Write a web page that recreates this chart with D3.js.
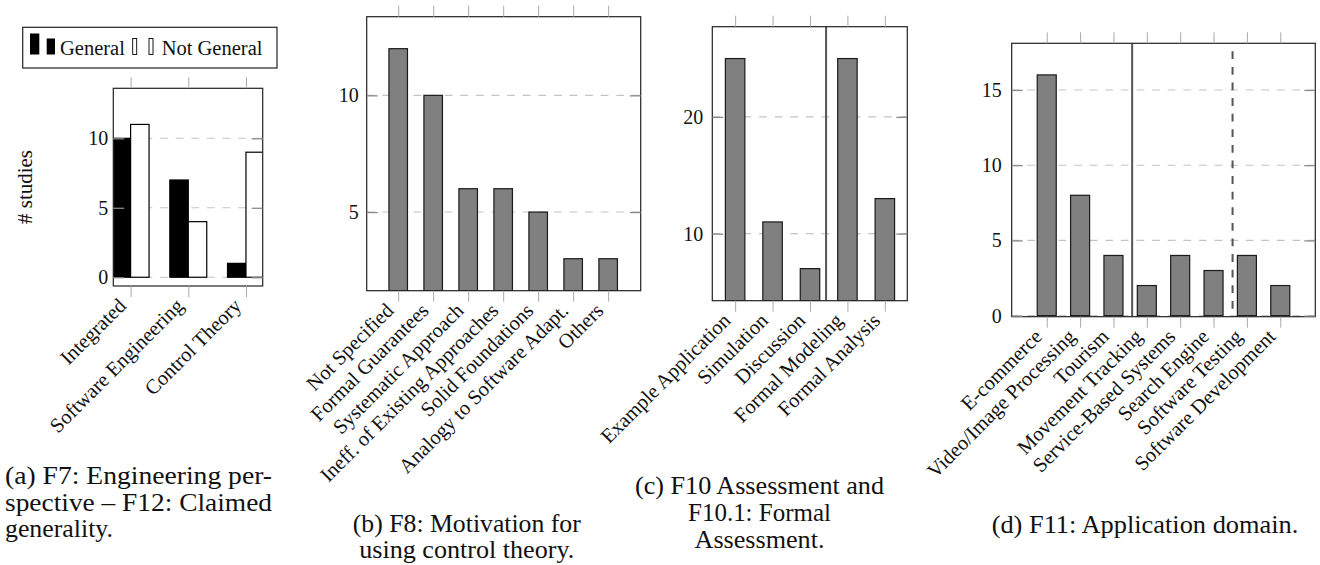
<!DOCTYPE html>
<html>
<head>
<meta charset="utf-8">
<script src="https://cdn.jsdelivr.net/npm/d3@7"></script>
<style>
  body { margin: 0; background: #fff; }
  text { font-family: "Liberation Serif", serif; fill: #111; }
</style>
</head>
<body>
<div class="chart-box"></div>
<script>
// (a) engineering perspective vs claimed generality
const catsA = ["Integrated", "Software Engineering", "Control Theory"];
const generalA = [10, 7, 1];
const notGeneralA = [11, 4, 9];
const ticksA = [0, 5, 10];

// (b) motivation
const catsB = ["Not Specified", "Formal Guarantees", "Systematic Approach", "Ineff. of Existing Approaches",
  "Solid Foundations", "Analogy to Software Adapt.", "Others"];
const valsB = [12, 10, 6, 6, 5, 3, 3];
const ticksB = [5, 10];

// (c) assessment
const catsC = ["Example Application", "Simulation", "Discussion", "Formal Modeling", "Formal Analysis"];
const valsC = [25, 11, 7, 25, 13];
const ticksC = [10, 20];

// (d) application domain
const catsD = ["E-commerce", "Video/Image Processing", "Tourism", "Movement Tracking",
  "Service-Based Systems", "Search Engine", "Software Testing", "Software Development"];
const valsD = [16, 8, 4, 2, 4, 3, 4, 2];
const ticksD = [0, 5, 10, 15];

let width = 1320, height = 565;
const serif = "'Liberation Serif', serif";

let svg = d3.select(".chart-box")
  .append("svg")
  .attr("width", width)
  .attr("height", height)
  .style("font-family", serif);

let clipCount = 0;

function makePanel(p) {
  let g = svg.append("g");
  let x = d3.scaleLinear().domain(p.xdom).range([p.left, p.right]);
  let y = d3.scaleLinear().domain(p.ydom).range([p.bottom, p.top]);
  let clipId = "clip" + (clipCount++);
  g.append("clipPath").attr("id", clipId)
    .append("rect")
    .attr("x", p.left).attr("y", p.top)
    .attr("width", p.right - p.left).attr("height", p.bottom - p.top);

  // dashed grid
  g.append("g").selectAll("line")
    .data(p.yticks)
    .enter()
    .append("line")
    .attr("x1", p.left).attr("x2", p.right)
    .attr("y1", d => y(d)).attr("y2", d => y(d))
    .attr("stroke", "#c4c4c4")
    .attr("stroke-width", 1.1)
    .attr("stroke-dasharray", "7.8 7.8");

  let bars = g.append("g").attr("clip-path", `url(#${clipId})`);
  return { g, x, y, bars };
}

function finishPanel(P, p) {
  let { g, x, y } = P;
  let idx = d3.range(p.cats.length);

  // separators
  (p.seps || []).forEach(s => {
    g.append("line")
      .attr("x1", x(s.at)).attr("x2", x(s.at))
      .attr("y1", s.dashed ? p.top + 8 : p.top).attr("y2", p.bottom)
      .attr("stroke", "#555")
      .attr("stroke-width", 2)
      .attr("stroke-dasharray", s.dashed ? "7.8 7.8" : null);
  });

  // frame
  g.append("rect")
    .attr("x", p.left).attr("y", p.top)
    .attr("width", p.right - p.left).attr("height", p.bottom - p.top)
    .attr("fill", "none")
    .attr("stroke", "#222")
    .attr("stroke-width", 1.2);

  let top = g.append("g")
    .attr("transform", `translate(0,${p.top})`)
    .call(d3.axisTop(x).tickValues(idx).tickSize(11).tickFormat(""));
  top.select(".domain").remove();
  top.selectAll("line").attr("stroke", "#aaa");

  let bottom = g.append("g")
    .attr("transform", `translate(0,${p.bottom})`)
    .call(d3.axisBottom(x).tickValues(idx).tickSize(11).tickFormat(i => p.cats[i]));
  bottom.select(".domain").remove();
  bottom.selectAll("line").attr("stroke", "#aaa");
  bottom.selectAll("text")
    .attr("x", null).attr("y", null).attr("dy", "0.35em")
    .attr("text-anchor", "end")
    .attr("transform", "translate(-9,16) rotate(-45)")
    .style("font-size", "20.5px")
    .style("font-family", serif)
    .attr("fill", "#111");

  let left = g.append("g")
    .attr("transform", `translate(${p.left},0)`)
    .call(d3.axisLeft(y).tickValues(p.yticks).tickSize(-11).tickPadding(p.labelPad));
  left.select(".domain").remove();
  left.selectAll("line").attr("stroke", "#8a8a8a").attr("stroke-width", 1.3);
  left.selectAll("text")
    .style("font-size", "20px")
    .style("font-family", serif)
    .attr("fill", "#111");

  let right = g.append("g")
    .attr("transform", `translate(${p.right},0)`)
    .call(d3.axisRight(y).tickValues(p.yticks).tickSize(-11).tickFormat(""));
  right.select(".domain").remove();
  right.selectAll("line").attr("stroke", "#8a8a8a").attr("stroke-width", 1.3);
}

function singleBars(P, p, vals, bw) {
  let base = Math.max(0, p.ydom[0]);
  P.bars.selectAll("rect")
    .data(vals)
    .enter()
    .append("rect")
    .attr("x", (d, i) => P.x(i - bw / 2))
    .attr("width", P.x(bw) - P.x(0))
    .attr("y", d => P.y(d))
    .attr("height", d => P.y(base) - P.y(d))
    .attr("fill", "#808080")
    .attr("stroke", "#1a1a1a")
    .attr("stroke-width", 1.2);
}

// ---- panel a
let pa = { left: 113.3, right: 262.7, top: 88.3, bottom: 286, xdom: [-0.3, 2.29], ydom: [-0.63, 13.6],
  cats: catsA, yticks: ticksA, labelPad: 5 };
let A = makePanel(pa);
let bwA = 0.32;
A.bars.selectAll("rect.gen")
  .data(generalA)
  .enter()
  .append("rect")
  .attr("class", "gen")
  .attr("x", (d, i) => A.x(i - bwA))
  .attr("width", A.x(bwA) - A.x(0))
  .attr("y", d => A.y(d))
  .attr("height", d => A.y(0) - A.y(d))
  .attr("fill", "#000")
  .attr("stroke", "#000")
  .attr("stroke-width", 1.2);
A.bars.selectAll("rect.ngen")
  .data(notGeneralA)
  .enter()
  .append("rect")
  .attr("class", "ngen")
  .attr("x", (d, i) => A.x(i))
  .attr("width", A.x(bwA) - A.x(0))
  .attr("y", d => A.y(d))
  .attr("height", d => A.y(0) - A.y(d))
  .attr("fill", "#fff")
  .attr("stroke", "#000")
  .attr("stroke-width", 1.2);
finishPanel(A, pa);

svg.append("text")
  .attr("transform", "translate(25,187) rotate(-90)")
  .attr("text-anchor", "middle")
  .attr("dy", "0.35em")
  .style("font-size", "21px")
  .text("# studies");

// legend
let leg = svg.append("g");
leg.append("rect").attr("x", 22.7).attr("y", 27.3).attr("width", 254.3).attr("height", 40.7)
  .attr("fill", "#fff").attr("stroke", "#222").attr("stroke-width", 1.2);
leg.append("rect").attr("x", 30).attr("y", 33.5).attr("width", 9.3).attr("height", 21).attr("fill", "#000");
leg.append("rect").attr("x", 46.7).attr("y", 38.5).attr("width", 8.3).attr("height", 16).attr("fill", "#000");
leg.append("text").attr("x", 60).attr("y", 55).style("font-size", "20.5px").text("General");
leg.append("rect").attr("x", 132.7).attr("y", 38.5).attr("width", 4).attr("height", 16)
  .attr("fill", "#fff").attr("stroke", "#000").attr("stroke-width", 0.9);
leg.append("rect").attr("x", 149).attr("y", 38.5).attr("width", 4).attr("height", 16)
  .attr("fill", "#fff").attr("stroke", "#000").attr("stroke-width", 0.9);
leg.append("text").attr("x", 161.7).attr("y", 55).style("font-size", "20.5px").text("Not General");

// ---- panel b
let pb = { left: 366.7, right: 640.7, top: 16.7, bottom: 290.7, xdom: [-0.9, 6.93], ydom: [1.63, 13.37],
  cats: catsB, yticks: ticksB, labelPad: 8 };
let B = makePanel(pb);
singleBars(B, pb, valsB, 0.53);
finishPanel(B, pb);

// ---- panel c
let pc = { left: 712.3, right: 907.3, top: 26.7, bottom: 300.7, xdom: [-0.61, 4.6], ydom: [4.25, 27.73],
  cats: catsC, yticks: ticksC, labelPad: 9, seps: [{ at: 2.43 }] };
let C = makePanel(pc);
singleBars(C, pc, valsC, 0.52);
finishPanel(C, pc);

// ---- panel d
let pd = { left: 1011.7, right: 1315.3, top: 43.3, bottom: 316.7, xdom: [-1.05, 8.05], ydom: [-0.07, 18.1],
  cats: catsD, yticks: ticksD, labelPad: 10, seps: [{ at: 2.56 }, { at: 5.57, dashed: true }] };
let D = makePanel(pd);
singleBars(D, pd, valsD, 0.57);
finishPanel(D, pd);

// ---- captions
let captions = [
  { x: 5, y: 484, anchor: "start", len: 267, text: "(a) F7: Engineering per-" },
  { x: 5, y: 511, anchor: "start", len: 267, text: "spective \u2013 F12: Claimed" },
  { x: 5, y: 537, anchor: "start", len: 108, text: "generality." },
  { x: 466.8, y: 531.5, anchor: "middle", len: 228, text: "(b) F8: Motivation for" },
  { x: 466.8, y: 558, anchor: "middle", len: 215, text: "using control theory." },
  { x: 759.5, y: 494, anchor: "middle", len: 249, text: "(c) F10 Assessment and" },
  { x: 759.5, y: 521, anchor: "middle", len: 143, text: "F10.1: Formal" },
  { x: 759.5, y: 547.5, anchor: "middle", len: 130, text: "Assessment." },
  { x: 1145, y: 533, anchor: "middle", len: 306.7, text: "(d) F11: Application domain." }
];
svg.append("g").selectAll("text")
  .data(captions)
  .enter()
  .append("text")
  .attr("x", d => d.x)
  .attr("y", d => d.y)
  .attr("text-anchor", d => d.anchor)
  .attr("textLength", d => d.len)
  .attr("lengthAdjust", "spacingAndGlyphs")
  .style("font-size", "25px")
  .text(d => d.text);
</script>
</body>
</html>
